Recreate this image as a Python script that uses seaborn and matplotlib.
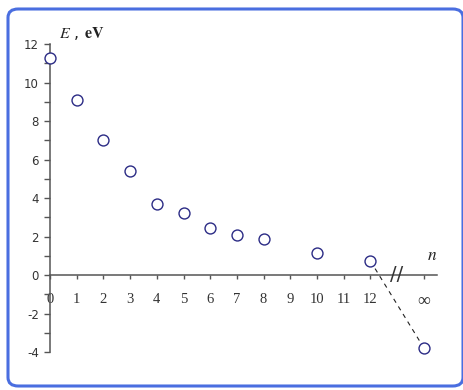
import numpy as np
import pandas as pd
import matplotlib.pyplot as plt
import seaborn as sns
from matplotlib.patches import FancyBboxPatch
from matplotlib.ticker import FixedLocator

sns.set_theme(style="white")
plt.rcParams['font.family'] = ['DejaVu Sans']
plt.rcParams['mathtext.fontset'] = 'stix'

# --- data ---
n_pos = [0, 1, 2, 3, 4, 5, 6, 7, 8, 10, 12, 14]   # 14 stands for n = infinity
energy = [11.3, 9.1, 7.0, 5.4, 3.7, 3.2, 2.45, 2.1, 1.9, 1.13, 0.73, -3.78]
x_ticks = [0, 1, 2, 3, 4, 5, 6, 7, 8, 9, 10, 11, 12, 14]
x_labels = ['0', '1', '2', '3', '4', '5', '6', '7', '8', '9', '10', '11', '12', '∞']
y_ticks = [-4, -2, 0, 2, 4, 6, 8, 10, 12]
y_minor = [-3, -1, 1, 3, 5, 7, 9, 11]

df = pd.DataFrame({'n': n_pos, 'E': energy})

W, H = 464, 390
fig = plt.figure(figsize=(W / 100, H / 100), dpi=100)

# rounded blue frame around the whole picture
frame = FancyBboxPatch((8 / W, 4 / H), 455 / W, 377 / H,
                       boxstyle="round,pad=0,rounding_size=0.022",
                       transform=fig.transFigure, facecolor='none',
                       edgecolor='#4a6ee0', linewidth=2.2, zorder=-1)
fig.patches.append(frame)

ax = fig.add_axes([30 / W, 15 / H, 424 / W, 355 / H])
ax.patch.set_alpha(0)
ax.set_xlim(-0.749, 15.13)
ax.set_ylim(-5.19, 13.25)

# dashed jump from n = 12 to n = infinity
last = df.iloc[-2:]
ax.plot(last['n'], last['E'], color='#222222', linestyle=(0, (4, 4)), linewidth=0.8, zorder=2)

sns.scatterplot(data=df, x='n', y='E', ax=ax, marker='o', s=62,
                facecolor='white', edgecolor='#2b2b85', linewidth=1.0, zorder=3)

# axes through the origin
for side in ['top', 'right']:
    ax.spines[side].set_visible(False)
ax.spines['left'].set_position(('data', 0))
ax.spines['bottom'].set_position(('data', 0))
ax.spines['left'].set_bounds(-4, 12)
ax.spines['bottom'].set_bounds(0, 14.5)
for side in ['left', 'bottom']:
    ax.spines[side].set_color('#555555')
    ax.spines[side].set_linewidth(1.1)

ax.set_xticks(x_ticks)
ax.set_xticklabels(x_labels, family='Liberation Serif', fontsize=10.5, color='#333333')
ax.get_xticklabels()[-1].set_fontsize(13)
ax.set_yticks(y_ticks)
ax.set_yticklabels([str(v) for v in y_ticks], fontsize=8.5, color='#333333')
ax.yaxis.set_minor_locator(FixedLocator(y_minor))
ax.tick_params(axis='x', direction='out', length=3, width=1, color='#555555', pad=10, bottom=True)
ax.tick_params(axis='y', which='both', direction='out', length=4, width=1, color='#555555', pad=4, left=True)
ax.set_xlabel('')
ax.set_ylabel('')

# axis break on the n axis
ax.text(13, 0.05, '//', ha='center', va='center', fontsize=14, color='#333333',
        family='DejaVu Sans')

ax.text(0.35, 12.1, r'$E$ , $\mathbf{eV}$', fontsize=11.5, color='#222222', va='bottom')
ax.text(14.3, 1.05, r'$n$', fontsize=12.5, color='#222222', ha='center', va='center')

fig.savefig('out.png', dpi=100)
